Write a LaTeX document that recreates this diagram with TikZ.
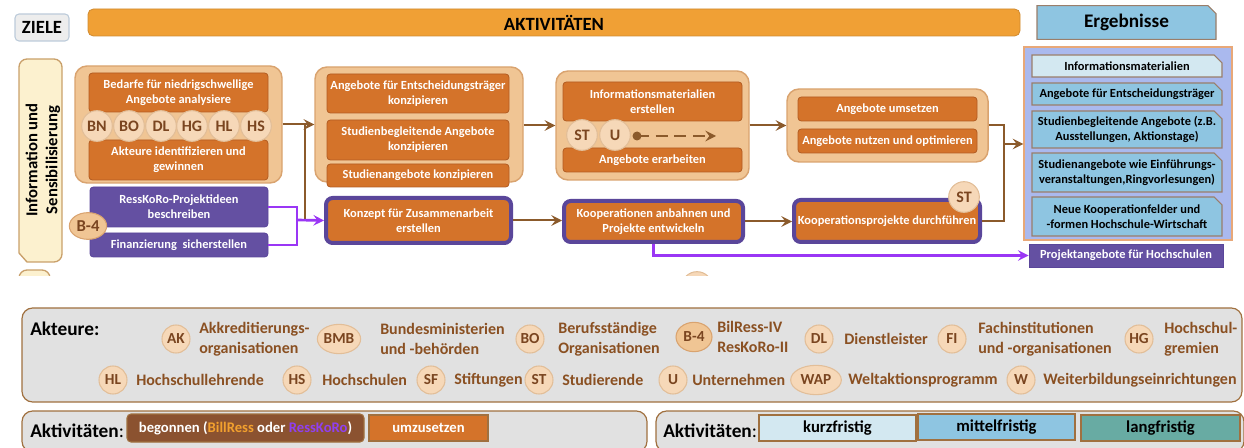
\documentclass[tikz,border=0pt]{standalone}
\usepackage{fontspec}
\setmainfont{Carlito}
\usetikzlibrary{arrows.meta,shapes.misc,shapes.geometric}

\definecolor{barorange}{HTML}{F0A035}
\definecolor{barline}{HTML}{D08A30}
\definecolor{grpfill}{HTML}{F0C594}
\definecolor{grpline}{HTML}{D9A36F}
\definecolor{actfill}{HTML}{D4732A}
\definecolor{actline}{HTML}{B25C22}
\definecolor{purpfill}{HTML}{6450A2}
\definecolor{purpline}{HTML}{5A469A}
\definecolor{violetline}{HTML}{9A36F5}
\definecolor{brownline}{HTML}{8B5A2B}
\definecolor{actorfill}{HTML}{F6D8B8}
\definecolor{actorline}{HTML}{E2BE98}
\definecolor{actortext}{HTML}{7A4520}
\definecolor{resfill}{HTML}{8EC5E1}
\definecolor{reslight}{HTML}{D3E8F1}
\definecolor{resline}{HTML}{9A7E6A}
\definecolor{framefill}{HTML}{AAB9EE}
\definecolor{frameline}{HTML}{E8A878}
\definecolor{leggray}{HTML}{E1E1E1}
\definecolor{legline}{HTML}{A0703F}
\definecolor{legtext}{HTML}{8A5022}
\definecolor{zielefill}{HTML}{EDEDED}
\definecolor{zieleline}{HTML}{BCCBDA}
\definecolor{creamfill}{HTML}{FCF1CF}
\definecolor{creamline}{HTML}{C9A06A}
\definecolor{tealfill}{HTML}{68ABA3}
\definecolor{begfill}{HTML}{8B5230}
\definecolor{billorange}{HTML}{F2A02E}
\definecolor{resspurple}{HTML}{9040F0}

\newcommand{\mtxt}{\fontsize{9.3}{11.4}\selectfont\bfseries}
\newcommand{\ltxt}{\fontsize{12}{15}\selectfont\bfseries}
% box from pixel corners: name, style, x1, y1, x2, y2, text
\newcommand{\rbox}[7]{%
  \node[#2, minimum width={(#5-#3)*0.75pt}, minimum height={(#6-#4)*0.75pt}]
    (#1) at ({(#3+#5)/2},{(#4+#6)/2}) {#7};}

\tikzset{
  grp/.style={draw=grpline, fill=grpfill, line width=1.1pt, rounded corners=9pt, inner sep=0pt},
  act/.style={draw=actline, fill=actfill, line width=0.6pt, rounded corners=2.5pt,
    text=white, font=\mtxt, align=center, inner sep=0pt},
  actp/.style={act, draw=purpline, line width=3pt, rounded corners=5pt},
  purp/.style={act, draw=purpline, fill=purpfill},
  actor/.style={circle, draw=actorline, fill=actorfill, line width=0.8pt, text=actortext,
    inner sep=0pt, minimum size=23pt, font=\fontsize{12}{13}\selectfont\bfseries},
  legactor/.style={actor, minimum size=21pt, font=\fontsize{11.5}{13}\selectfont\bfseries},
  actorel/.style={legactor, ellipse, minimum height=22pt},
  res/.style={chamfered rectangle, chamfered rectangle corners=north east,
    chamfered rectangle xsep=3pt, chamfered rectangle ysep=3pt,
    draw=resline, fill=resfill, line width=0.8pt, text=black, font=\mtxt,
    align=center, inner sep=0pt},
  bline/.style={draw=brownline, line width=1.5pt},
  pline/.style={draw=violetline, line width=2pt},
  tip/.style={-{Stealth[length=8pt, width=8pt, inset=3pt]}},
  legname/.style={anchor=west, text=legtext, font=\ltxt, align=left, inner sep=0pt},
  legbox/.style={draw=legline, fill=leggray, line width=0.9pt, rounded corners=8pt, inner sep=0pt},
  keybox/.style={draw=legline, line width=0.8pt, inner sep=0pt, font=\fontsize{12.5}{14}\selectfont\bfseries}
}

\begin{document}
\begin{tikzpicture}[x=0.75pt, y=-0.75pt]
\useasboundingbox (0,0) rectangle (1244,448);

% ---------- headers ----------
\rbox{ziele}{draw=zieleline, fill=zielefill, rounded corners=3pt, line width=0.8pt,
  font=\fontsize{14}{15}\selectfont\bfseries}{15}{14}{69}{41}{ZIELE}
\rbox{akt}{draw=barline, fill=barorange, rounded corners=4pt, line width=0.6pt,
  font=\fontsize{14}{15}\selectfont\bfseries}{88}{9}{1020}{36}{AKTIVITÄTEN}
\rbox{erg}{chamfered rectangle, chamfered rectangle corners=north east,
  chamfered rectangle xsep=3pt, chamfered rectangle ysep=3pt,
  draw=resline, fill=resfill, line width=0.8pt,
  font=\fontsize{14.4}{15}\selectfont\bfseries}{1037}{9}{1216}{36}{Ergebnisse}

% ---------- row label ----------
\draw[draw=creamline, fill=creamfill, line width=1pt]
  (62,262) -- (27,262) -- (19,253) [rounded corners=6pt] -- (19,59) -- (62,59) -- cycle;
\node[rotate=90, align=center, font=\fontsize{12.5}{15}\selectfont\bfseries] (zlabel)
  at (43,160) {Information und\\Sensibilisierung};
\begin{scope}
  \clip (0,266) rectangle (1244,276);
  \draw[draw=creamline, fill=creamfill, line width=1pt, rounded corners=6pt]
    (19,300) -- (19,270) -- (50,270) -- (50,300);
  \node[actor] (nextactor) at (697,287) {};
\end{scope}

% ---------- group 1 ----------
\rbox{g1}{grp}{75}{66}{282}{183}{}
\rbox{bedarf}{act}{89}{73}{268}{112}{Bedarfe für niedrigschwellige\\Angebote analysiere}
\rbox{ident}{act}{89}{140}{268}{180}{Akteure identifizieren und\\gewinnen}
\node[actor] (bn) at (97,126) {BN};
\node[actor] (bo) at (129,126) {BO};
\node[actor] (dl) at (161,126) {DL};
\node[actor] (hg) at (192,126) {HG};
\node[actor] (hl) at (224,126) {HL};
\node[actor] (hs) at (256,126) {HS};
\rbox{ress}{purp}{90}{187}{268}{227}{RessKoRo-Projektideen\\beschreiben}
\rbox{fin}{purp}{90}{233}{268}{257}{Finanzierung~~sicherstellen}
\node[actor, ellipse, minimum width=28pt, minimum height=20pt, fill=grpfill, draw=grpline,
  font=\fontsize{12.5}{14}\selectfont\bfseries] (b4) at (88,226) {B-4};

% ---------- group 2 ----------
\rbox{g2}{grp}{315}{67}{523}{182}{}
\rbox{entsch}{act}{327}{74}{509}{113}{Angebote für Entscheidungsträger\\konzipieren}
\rbox{stbeg}{act}{327}{120}{509}{160}{Studienbegleitende Angebote\\konzipieren}
\rbox{stang}{act}{327}{164}{509}{187}{Studienangebote konzipieren}
\rbox{konzept}{actp}{326}{198}{511}{243}{Konzept für Zusammenarbeit\\erstellen}

% ---------- group 3 ----------
\rbox{g3}{grp}{556}{71}{749}{180}{}
\rbox{infomat}{act}{563}{82}{742}{121}{Informationsmaterialien\\erstellen}
\rbox{erarb}{act}{563}{148}{742}{172}{Angebote erarbeiten}
\node[actor] (st1) at (582,135) {ST};
\node[actor] (u1) at (615,135) {U};
\coordinate (dotstart) at (637,136);
\coordinate (dotend) at (716,136);
\fill[brownline] (dotstart) circle (4.5);
\draw[bline, dash pattern=on 9pt off 5pt, tip] (dotstart) -- (dotend);
\rbox{koop}{actp}{564}{201}{743}{242}{Kooperationen anbahnen und\\Projekte entwickeln}

% ---------- group 4 ----------
\rbox{g4}{grp}{787}{89}{988}{162}{}
\rbox{umsetz}{act}{798}{97}{977}{121}{Angebote umsetzen}
\rbox{nutzen}{act}{798}{129}{977}{153}{Angebote nutzen und optimieren}
\rbox{kproj}{actp}{794}{200}{980}{242}{Kooperationsprojekte durchführen}
\node[actor] (st2) at (964,197) {ST};

% ---------- results ----------
\rbox{frame}{draw=frameline, fill=framefill, line width=1pt}{1024}{47}{1232}{240}{}
\rbox{r1}{res, fill=reslight}{1032}{55}{1222}{77}{Informationsmaterialien}
\rbox{r2}{res}{1032}{83}{1222}{105}{Angebote für Entscheidungsträger}
\rbox{r3}{res}{1032}{111}{1222}{148}{Studienbegleitende Angebote (z.B.\\Ausstellungen, Aktionstage)}
\rbox{r4}{res}{1032}{153}{1222}{192}{Studienangebote wie Einführungs-\\veranstaltungen,Ringvorlesungen)}
\rbox{r5}{res}{1032}{197}{1222}{236}{Neue Kooperationfelder und\\-formen Hochschule-Wirtschaft}
\rbox{projang}{purp, rounded corners=0pt}{1029}{244}{1223}{267}{Projektangebote für Hochschulen}

% ---------- connectors ----------
\coordinate (bjoin) at (305,0);
\coordinate (pjoin) at (297,220);
\draw[bline, tip] (g1.east) -- (g1.east -| g2.west);
\draw[bline] (g1.east -| bjoin) -- (bjoin |- pjoin);
\draw[pline] (ress.east) -| (pjoin);
\draw[pline] (fin.east) -| (pjoin);
\draw[pline, tip] (pjoin) -- (konzept.west);
\draw[bline, tip] (g3.west -| g2.east) -- (g3.west);
\draw[bline, tip] (g3.east) -- (g3.east -| g4.west);
\draw[bline, tip] (konzept.east) -- (konzept.east -| koop.west);
\draw[bline, tip] (koop.east) -- (koop.east -| kproj.west);
\coordinate (ejoin) at (1004,144);
\draw[bline] (g4.east) -| (ejoin);
\draw[bline] (kproj.east) -| (ejoin);
\draw[bline, tip] (ejoin) -- (ejoin -| frame.west);
\draw[pline, tip] (koop.south) |- (projang.west);

% ---------- actor legend ----------
\rbox{akteure}{legbox}{22}{308}{1242}{402}{}
\node[anchor=west, inner sep=0pt, font=\fontsize{14.5}{16}\selectfont\bfseries] (akteurelbl) at (30,329) {Akteure:};
\node[legactor] (lak) at (176,339) {AK};
\node[legname] (tak) at (199,339) {Akkreditierungs-\\organisationen};
\node[actorel, minimum width=31pt] (lbmb) at (339,339) {BMB};
\node[legname] (tbmb) at (380,339) {Bundesministerien\\und -behörden};
\node[legactor] (lbo) at (530,339) {BO};
\node[legname] (tbo) at (558,339) {Berufsständige\\Organisationen};
\node[actorel, minimum width=27pt, fill=grpfill, draw=grpline] (lb4) at (694,337) {B-4};
\node[legname] (tb4) at (717,337) {BilRess-IV\\ResKoRo-II};
\node[legactor] (ldl) at (819,339) {DL};
\node[legname] (tdl) at (844,339) {Dienstleister};
\node[legactor] (lfi) at (952,339) {FI};
\node[legname] (tfi) at (978,339) {Fachinstitutionen\\und -organisationen};
\node[legactor] (lhg) at (1139,339) {HG};
\node[legname] (thg) at (1164,339) {Hochschul-\\gremien};
\node[legactor] (lhl) at (113,380) {HL};
\node[legname] (thl) at (136,380) {Hochschullehrende};
\node[legactor] (lhs) at (297,380) {HS};
\node[legname] (ths) at (322,380) {Hochschulen};
\node[legactor] (lsf) at (431,380) {SF};
\node[legname] (tsf) at (454,380) {Stiftungen};
\node[legactor] (lst) at (539,380) {ST};
\node[legname] (tst) at (562,380) {Studierende};
\node[legactor] (lu) at (673,380) {U};
\node[legname] (tu) at (692,380) {Unternehmen};
\node[actorel, minimum width=38pt] (lwap) at (816,380) {WAP};
\node[legname] (twap) at (848,380) {Weltaktionsprogramm};
\node[legactor] (lw) at (1021,380) {W};
\node[legname] (tw) at (1043,380) {Weiterbildungseinrichtungen};

% ---------- activity legends ----------
\rbox{aktleg1}{legbox}{22}{411}{647}{452}{}
\node[anchor=west, inner sep=0pt, font=\fontsize{14.5}{16}\selectfont] (aktlbl1) at (30,431) {\textbf{Aktivitäten}:};
\rbox{begonnen}{keybox, fill=begfill, rounded corners=3pt, text=white,
  font=\fontsize{11}{13}\selectfont\bfseries}{127}{414}{364}{442}%
  {begonnen (\textcolor{billorange}{BillRess} oder \textcolor{resspurple}{RessKoRo})}
\rbox{umzus}{keybox, fill=actfill, text=white,
  font=\fontsize{11}{13}\selectfont\bfseries}{369}{415}{488}{441}{umzusetzen}
\rbox{aktleg2}{legbox}{656}{411}{1244}{452}{}
\node[anchor=west, inner sep=0pt, font=\fontsize{14.5}{16}\selectfont] (aktlbl2) at (663,431) {\textbf{Aktivitäten}:};
\rbox{kurz}{keybox, fill=reslight}{759}{415}{916}{441}{kurzfristig}
\rbox{mittel}{keybox, fill=resfill}{918}{414}{1075}{440}{mittelfristig}
\rbox{lang}{keybox, fill=tealfill}{1081}{415}{1240}{441}{langfristig}
\end{tikzpicture}
\end{document}
